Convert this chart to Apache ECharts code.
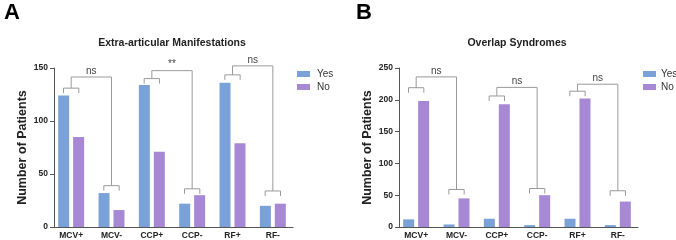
<!DOCTYPE html>
<html>
<head>
<meta charset="utf-8">
<script src="https://cdn.jsdelivr.net/npm/echarts@6/dist/echarts.min.js"></script>
<style>
  html, body { margin: 0; padding: 0; background: #fff; }
  #chart { width: 676px; height: 240px; }
</style>
</head>
<body>
<div id="chart"></div>
<script>
// categories and values
var categories = ['MCV+', 'MCV-', 'CCP+', 'CCP-', 'RF+', 'RF-'];
var extraYes = [124, 32, 134, 22, 136, 20];
var extraNo = [85, 16, 71, 30, 79, 22];
var overlapYes = [12, 4, 13, 3, 13, 3];
var overlapNo = [198, 45, 193, 50, 202, 40];

// brackets: [left index, right index, left bracket level, right bracket level, top level]
var extraBrackets = [[0, 1, 131, 39, 141.5], [2, 3, 140, 36, 147.5], [4, 5, 143.5, 34, 152]];
var extraLabels = ['ns', '**', 'ns'];
var overlapBrackets = [[0, 1, 219, 59, 236], [2, 3, 206, 60.5, 219.5], [4, 5, 213.5, 57, 224.5]];
var overlapLabels = ['ns', 'ns', 'ns'];

var BLUE = '#7ba2d8';
var PURPLE = '#a688d5';
var FONT = '"Liberation Sans", Arial, sans-serif';

function bracketRenderer(labels) {
    return function (params, api) {
        var l = api.value(0), r = api.value(1);
        var band = api.size([1, 0])[0];
        var half = band * 0.19;
        var pl = api.coord([l, api.value(2)]);
        var pr = api.coord([r, api.value(3)]);
        var pt = api.coord([l, api.value(4)]);
        var drop = 5;
        var style = { stroke: '#9a9a9a', lineWidth: 1, fill: null };
        function small(p) {
            return {
                type: 'polyline',
                shape: { points: [[p[0] - half, p[1] + drop], [p[0] - half, p[1]], [p[0] + half, p[1]], [p[0] + half, p[1] + drop]] },
                style: style
            };
        }
        return {
            type: 'group',
            children: [
                small(pl),
                small(pr),
                {
                    type: 'polyline',
                    shape: { points: [[pl[0], pl[1]], [pl[0], pt[1]], [pr[0], pt[1]], [pr[0], pr[1]]] },
                    style: style
                },
                {
                    type: 'text',
                    style: {
                        text: labels[params.dataIndex],
                        x: (pl[0] + pr[0]) / 2,
                        y: pt[1] - 1,
                        align: 'center',
                        verticalAlign: 'bottom',
                        fontSize: 10,
                        fontFamily: FONT,
                        fill: '#444'
                    }
                }
            ]
        };
    };
}

function xAxisFor(idx) {
    return {
        type: 'category',
        gridIndex: idx,
        data: categories,
        axisLine: { lineStyle: { color: '#555', width: 1 } },
        axisTick: { show: false },
        axisLabel: { fontSize: 8.5, fontWeight: 'bold', color: '#222', fontFamily: FONT, margin: 4 }
    };
}

function yAxisFor(idx, max) {
    return {
        type: 'value',
        gridIndex: idx,
        min: 0,
        max: max,
        interval: 50,
        offset: -3,
        name: 'Number of Patients',
        nameLocation: 'middle',
        nameGap: 25,
        nameTextStyle: { fontSize: 12.5, fontWeight: 'bold', color: '#222', fontFamily: FONT },
        splitLine: { show: false },
        axisLine: { show: true, lineStyle: { color: '#555', width: 1 } },
        axisTick: { show: true, length: 4, lineStyle: { color: '#555' } },
        axisLabel: { fontSize: 8.5, fontWeight: 'bold', color: '#222', fontFamily: FONT, margin: 6 }
    };
}

var myChart = echarts.init(document.getElementById('chart'));

var option = {
    animation: false,
    title: [
        { text: 'A', left: -1, top: -3, textStyle: { fontSize: 22, fontWeight: 'bold', color: '#000', fontFamily: FONT } },
        { text: 'B', left: 351, top: -3, textStyle: { fontSize: 22, fontWeight: 'bold', color: '#000', fontFamily: FONT } },
        { text: 'Extra-articular Manifestations', left: 172, top: 38, textAlign: 'center', padding: 0,
          textStyle: { fontSize: 10.5, fontWeight: 'bold', color: '#222', fontFamily: FONT } },
        { text: 'Overlap Syndromes', left: 517, top: 38, textAlign: 'center', padding: 0,
          textStyle: { fontSize: 10.5, fontWeight: 'bold', color: '#222', fontFamily: FONT } }
    ],
    legend: [
        { data: ['Yes', 'No'], orient: 'vertical', left: 297, top: 69, padding: 0, itemWidth: 13, itemHeight: 6, itemGap: 3,
          icon: 'rect', textStyle: { fontSize: 10, color: '#333', fontFamily: FONT, padding: [0, 0, 0, 2] } },
        { data: ['Yes', 'No'], orient: 'vertical', left: 643, top: 69, padding: 0, itemWidth: 13, itemHeight: 6, itemGap: 3,
          icon: 'rect', textStyle: { fontSize: 10, color: '#333', fontFamily: FONT, padding: [0, 0, 0, 0] } }
    ],
    grid: [
        { left: 51, width: 242, top: 68, height: 159 },
        { left: 396, width: 242, top: 68, height: 159 }
    ],
    xAxis: [xAxisFor(0), xAxisFor(1)],
    yAxis: [yAxisFor(0, 150), yAxisFor(1, 250)],
    series: [
        { name: 'Yes', type: 'bar', xAxisIndex: 0, yAxisIndex: 0, data: extraYes, barWidth: 11, barGap: '36%', itemStyle: { color: BLUE } },
        { name: 'No', type: 'bar', xAxisIndex: 0, yAxisIndex: 0, data: extraNo, barWidth: 11, barGap: '36%', itemStyle: { color: PURPLE } },
        { name: 'Yes', type: 'bar', xAxisIndex: 1, yAxisIndex: 1, data: overlapYes, barWidth: 11, barGap: '36%', itemStyle: { color: BLUE } },
        { name: 'No', type: 'bar', xAxisIndex: 1, yAxisIndex: 1, data: overlapNo, barWidth: 11, barGap: '36%', itemStyle: { color: PURPLE } },
        { type: 'custom', xAxisIndex: 0, yAxisIndex: 0, data: extraBrackets, clip: false, silent: true,
          encode: { x: 0, y: 4 }, renderItem: bracketRenderer(extraLabels), z: 5 },
        { type: 'custom', xAxisIndex: 1, yAxisIndex: 1, data: overlapBrackets, clip: false, silent: true,
          encode: { x: 0, y: 4 }, renderItem: bracketRenderer(overlapLabels), z: 5 }
    ]
};

myChart.setOption(option, true);
window.addEventListener('resize', function () {
    myChart.resize();
});
</script>
</body>
</html>
